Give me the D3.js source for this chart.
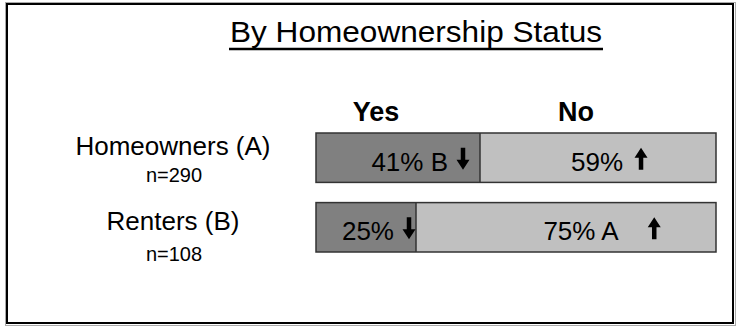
<!DOCTYPE html>
<html>
<head>
<meta charset="utf-8">
<script src="https://cdn.jsdelivr.net/npm/d3@7"></script>
<style>
  html, body { margin: 0; padding: 0; background: #fff; }
  svg { display: block; font-family: Arial, "Liberation Sans", sans-serif; }
</style>
</head>
<body>
<svg id="chart" width="738" height="327"></svg>
<script>
// ---- data ----
const title = "By Homeownership Status";
const groups = ["Homeowners (A)", "Renters (B)"];
const sampleSizes = ["n=290", "n=108"];
const seriesNames = ["Yes", "No"];
const yesValues = [41, 25];
const noValues = [59, 75];
const yesSig = ["B", ""];        // significance letters
const noSig = ["", "A"];
const yesDir = ["down", "down"]; // arrow directions
const noDir = ["up", "up"];

// ---- layout ----
const svg = d3.select("#chart");

// outer frame
svg.append("rect").attr("x", 5.5).attr("y", 2.5).attr("width", 730).attr("height", 323)
  .attr("fill", "none").attr("stroke", "#aaa").attr("stroke-width", 1);
svg.append("rect").attr("x", 7).attr("y", 4).attr("width", 726).attr("height", 319)
  .attr("fill", "none").attr("stroke", "#000").attr("stroke-width", 2);

// title
svg.append("text")
  .attr("x", 416).attr("y", 42)
  .attr("text-anchor", "middle")
  .attr("font-size", 29)
  .attr("textLength", 372)
  .attr("lengthAdjust", "spacingAndGlyphs")
  .attr("fill", "#000")
  .text(title);
svg.append("line")
  .attr("x1", 229).attr("x2", 603)
  .attr("y1", 49).attr("y2", 49)
  .attr("stroke", "#000").attr("stroke-width", 2.5);

const x = d3.scaleLinear().domain([0, 100]).range([316, 716]);
const y = d3.scaleBand().domain(groups).range([133, 252]).paddingInner(0.29);

// column headers
const headerPos = [15, 65];
svg.selectAll("text.header").data(seriesNames).enter().append("text")
  .attr("class", "header")
  .attr("x", (d, i) => x(headerPos[i]))
  .attr("y", 121)
  .attr("text-anchor", "middle")
  .attr("font-size", 27)
  .attr("font-weight", "bold")
  .text(d => d);

// row labels
const rowG = svg.selectAll("g.row").data(groups).enter().append("g").attr("class", "row");
rowG.append("text")
  .attr("x", 173)
  .attr("y", (d, i) => y(d) + 22 + i * 5)
  .attr("text-anchor", "middle")
  .attr("font-size", 26)
  .text(d => d);
rowG.append("text")
  .attr("x", 174)
  .attr("y", (d, i) => y(d) + 49 + i * 9)
  .attr("text-anchor", "middle")
  .attr("font-size", 20)
  .text((d, i) => sampleSizes[i]);

// arrow drawer
function arrow(g, cx, cy, dir) {
  const s = dir === "up" ? -1 : 1;      // tip direction
  const len = 22, headH = 10, headW = 13, shaft = 4.5;
  const tipY = cy + s * len / 2, baseY = cy - s * len / 2;
  const neckY = tipY - s * headH;
  const p = d3.path();
  p.moveTo(cx - shaft / 2, baseY);
  p.lineTo(cx + shaft / 2, baseY);
  p.lineTo(cx + shaft / 2, neckY);
  p.lineTo(cx + headW / 2, neckY);
  p.lineTo(cx, tipY);
  p.lineTo(cx - headW / 2, neckY);
  p.lineTo(cx - shaft / 2, neckY);
  p.closePath();
  g.append("path").attr("d", p.toString()).attr("fill", "#000");
}

// bars
groups.forEach((grp, i) => {
  const g = svg.append("g");
  const top = y(grp), bh = y.bandwidth();
  const xs = x(0), xm = x(yesValues[i]), xe = x(yesValues[i] + noValues[i]);
  g.append("rect").attr("x", xs).attr("y", top).attr("width", xm - xs).attr("height", bh)
    .attr("fill", "#808080");
  g.append("rect").attr("x", xm).attr("y", top).attr("width", xe - xm).attr("height", bh)
    .attr("fill", "#c0c0c0");
  g.append("rect").attr("x", xs).attr("y", top).attr("width", xe - xs).attr("height", bh)
    .attr("fill", "none").attr("stroke", "#333").attr("stroke-width", 1.5);
  g.append("line").attr("x1", xm).attr("x2", xm).attr("y1", top).attr("y2", top + bh)
    .attr("stroke", "#333").attr("stroke-width", 1.5);

  const baseY = top + bh / 2 + 13;
  const cy = top + bh / 2 + 1;

  // Yes label: arrow near the right end of segment, text to its left
  const yesArrowX = xm - 7 - (i === 0 ? 10 : 0);
  const yesLabel = yesValues[i] + "%" + (yesSig[i] ? " " + yesSig[i] : "");
  g.append("text").attr("x", yesArrowX - 15).attr("y", baseY)
    .attr("text-anchor", "end").attr("font-size", 26).text(yesLabel);
  arrow(g, yesArrowX, cy, yesDir[i]);

  // No label
  const noLabel = noValues[i] + "%" + (noSig[i] ? " " + noSig[i] : "");
  const noText = g.append("text").attr("x", (xm + xe) / 2 + (i === 0 ? -1 : 15)).attr("y", baseY)
    .attr("text-anchor", "middle").attr("font-size", 26).text(noLabel);
  const nb = noText.node().getBBox();
  arrow(g, nb.x + nb.width + (noSig[i] ? 35 : 18), cy, noDir[i]);
});
</script>
</body>
</html>
